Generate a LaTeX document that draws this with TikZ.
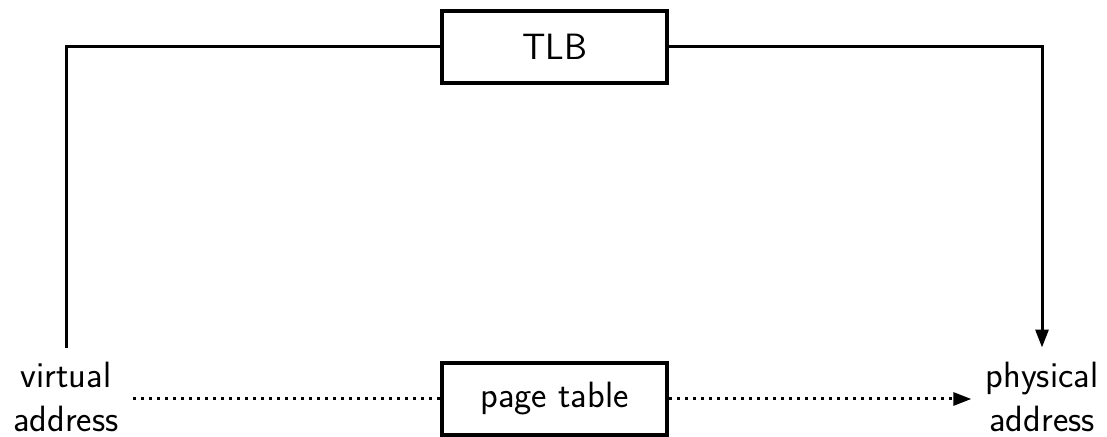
\documentclass[tikz,border=0pt]{standalone}
\usetikzlibrary{arrows.meta}
\begin{document}
\begin{tikzpicture}[x=0.5pt,y=-0.5pt,
  every node/.style={font=\sffamily\fontsize{18.3}{22}\selectfont},
  unit/.style={draw,line width=2pt,minimum width=112.5pt,minimum height=36pt,inner sep=0pt},
  addr/.style={align=center,inner sep=7pt,anchor=south},
  wire/.style={line width=1.5pt},
  tip/.style={-{Triangle[length=9pt,width=6.5pt]}},
  dots/.style={wire,dash pattern=on 1.5pt off 2.5pt}]
  \useasboundingbox (0,0) rectangle (1107,437);

  % the two translation paths
  \node[unit] (tlb) at (554.5,47) {TLB};
  \node[unit] (pt) at (554.5,399) {page table};

  % end points
  \node[addr] (va) at (66,446) {virtual\\address};
  \node[addr] (pa) at (1042,446) {physical\\address};

  % fast path through the TLB
  \draw[wire] (va.north) |- (tlb.west);
  \draw[wire,tip] (tlb.east) -| (pa.north);

  % slow path through the page table
  \draw[dots] (va.east |- pt.west) -- (pt.west);
  \draw[dots,tip] (pt.east) -- (pa.west |- pt.east);
\end{tikzpicture}
\end{document}
